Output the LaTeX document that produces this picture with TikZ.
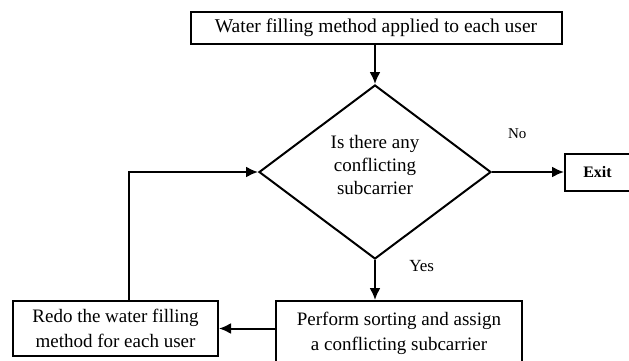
\documentclass[tikz,border=0pt]{standalone}
\usepackage{fontspec}
\setmainfont{Liberation Serif}
\usetikzlibrary{arrows.meta, positioning, shapes.geometric}

\begin{document}
\begin{tikzpicture}[
        font=\fontsize{19}{23}\selectfont,
        box/.style={draw, line width=2pt, align=center, inner sep=2pt},
        decision/.style={draw, diamond, line width=2pt, align=center, aspect=1.33,
            minimum width=232pt, minimum height=174pt, inner sep=0pt, text depth=14pt},
        line/.style={-{Latex[length=12pt, width=11pt]}, line width=2pt},
        lbl/.style={font=\fontsize{15}{18}\selectfont}
    ]
    \useasboundingbox (0,0) rectangle (629pt,-360pt);

    % Top: start
    \node[box, font=\fontsize{19.5}{23}\selectfont, minimum width=371pt, minimum height=32pt]
        (fill) at (376pt,-28pt) {Water filling method applied to each user};

    % Middle: decision + exit
    \node[decision, below=39pt of fill, xshift=-1pt] (check)
        {Is there any\\ conflicting\\ subcarrier};
    \node[box, font=\fontsize{16}{18}\selectfont\bfseries, minimum width=65pt,
        minimum height=37pt, right=72pt of check] (exit) {Exit};

    % Bottom: assign + redo
    \node[box, minimum width=246pt, minimum height=65pt, anchor=north]
        (assign) at ([xshift=24pt, yshift=-40pt]check.south)
        {Perform sorting and assign\\[2pt] a conflicting subcarrier};
    \node[box, minimum width=205pt, minimum height=55pt, anchor=north east]
        (redo) at ([xshift=-56pt]assign.north west)
        {Redo the water filling\\[2pt] method for each user};

    % Arrows
    \draw[line] (fill.south -| check.north) -- (check.north);
    \draw[line] (check.east) -- node[lbl, above=29pt, pos=0.35]{No} (exit.west);
    \draw[line] (check.south) -- node[lbl, font=\fontsize{17}{20}\selectfont, right=30pt, pos=0.15]{Yes} (check.south |- assign.north);
    \draw[line] (redo.east -| assign.west) -- (redo.east);

    % Loop back to the decision
    \draw[line] ([xshift=13.5pt]redo.north) |- (check.west);

\end{tikzpicture}
\end{document}
